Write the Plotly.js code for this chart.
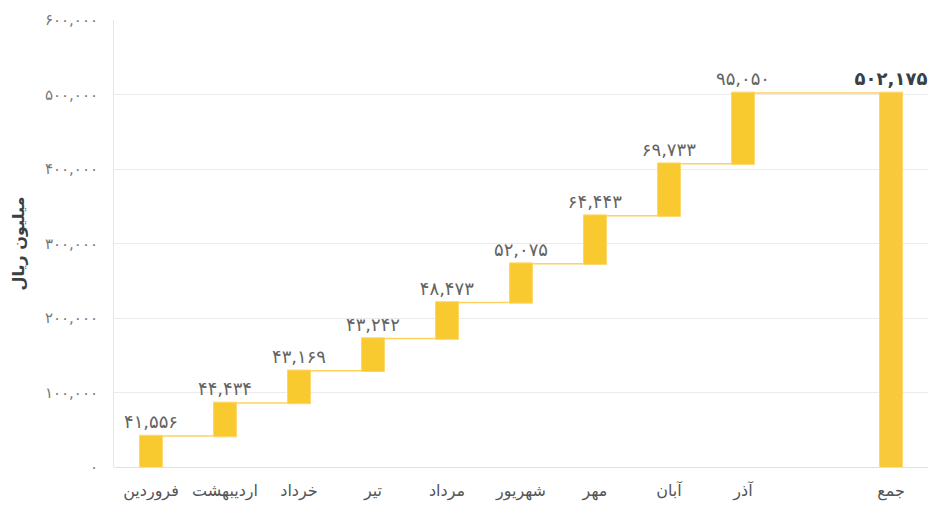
<!DOCTYPE html>
<html>
<head>
<meta charset="utf-8">
<script src="https://cdn.plot.ly/plotly-3.0.1.min.js"></script>
<style>html,body{margin:0;padding:0;background:#fff;}#chart{width:928px;height:505px;}</style>
</head>
<body>
<div id="chart"></div>
<script>
// Data
const months = ['فروردین', 'اردیبهشت', 'خرداد', 'تیر', 'مرداد', 'شهریور', 'مهر', 'آبان', 'آذر'];
const totalLabel = 'جمع';
const monthlyValues = [41556, 44434, 43169, 43242, 48473, 52075, 64443, 69733, 95050];
const monthPositions = [0, 1, 2, 3, 4, 5, 6, 7, 8];
const totalPosition = 10;
const yTickValues = [0, 100000, 200000, 300000, 400000, 500000, 600000];
const yTickLabels = ['۰', '۱۰۰,۰۰۰', '۲۰۰,۰۰۰', '۳۰۰,۰۰۰', '۴۰۰,۰۰۰', '۵۰۰,۰۰۰', '۶۰۰,۰۰۰'];
const yTitle = 'میلیون ریال';

const faDigits = s => String(s).replace(/\d/g, d => '۰۱۲۳۴۵۶۷۸۹'[d]);
const fmt = v => faDigits(v.toLocaleString('en-US'));
const total = monthlyValues.reduce((a, b) => a + b, 0);

const xs = monthPositions.concat([totalPosition]);
const ys = monthlyValues.concat([0]);
const measures = monthlyValues.map(() => 'relative').concat(['total']);
const texts = monthlyValues.map(fmt).concat(['<b>' + fmt(total) + '</b>']);
const textColors = monthlyValues.map(() => '#636363').concat(['#3a3f44']);

const font = 'DejaVu Sans, Noto Sans, sans-serif';

const trace = {
  type: 'waterfall',
  x: xs,
  y: ys,
  measure: measures,
  text: texts,
  textposition: 'outside',
  constraintext: 'none',
  textfont: {family: font, size: 18, color: textColors},
  cliponaxis: false,
  width: 0.31,
  increasing: {marker: {color: '#F9CA30', line: {color: '#FFD56A', width: 1}}},
  decreasing: {marker: {color: '#F9CA30', line: {color: '#FFD56A', width: 1}}},
  totals: {marker: {color: '#F8C93A', line: {color: '#FFD56A', width: 1}}},
  connector: {mode: 'between', line: {color: '#FFD25C', width: 1.5}},
  hoverinfo: 'none'
};

const layout = {
  width: 928,
  height: 505,
  margin: {l: 114, r: 0, t: 20, b: 38},
  paper_bgcolor: '#ffffff',
  plot_bgcolor: '#ffffff',
  showlegend: false,
  font: {family: font, color: '#555'},
  xaxis: {
    range: [-0.5, 10.5],
    tickvals: xs,
    ticktext: months.concat([totalLabel]),
    tickfont: {family: font, size: 16, color: '#555'},
    showgrid: false,
    zeroline: false,
    showline: false,
    ticks: '',
    ticklen: 0,
    ticklabelstandoff: 12
  },
  yaxis: {
    range: [0, 600000],
    tickvals: yTickValues,
    ticktext: yTickLabels,
    tickfont: {family: font, size: 15, color: '#777'},
    showgrid: true,
    gridcolor: '#EBEBEB',
    gridwidth: 1,
    zeroline: true,
    zerolinecolor: '#E0E0E0',
    zerolinewidth: 1,
    showline: true,
    linecolor: '#E6E6E6',
    linewidth: 1,
    ticks: '',
    ticklabelstandoff: 12,
    title: {text: yTitle, font: {family: font, size: 16, color: '#3a3f44', weight: 'bold'}, standoff: 16}
  }
};

Plotly.newPlot('chart', [trace], layout, {displayModeBar: false, staticPlot: true});
</script>
</body>
</html>
